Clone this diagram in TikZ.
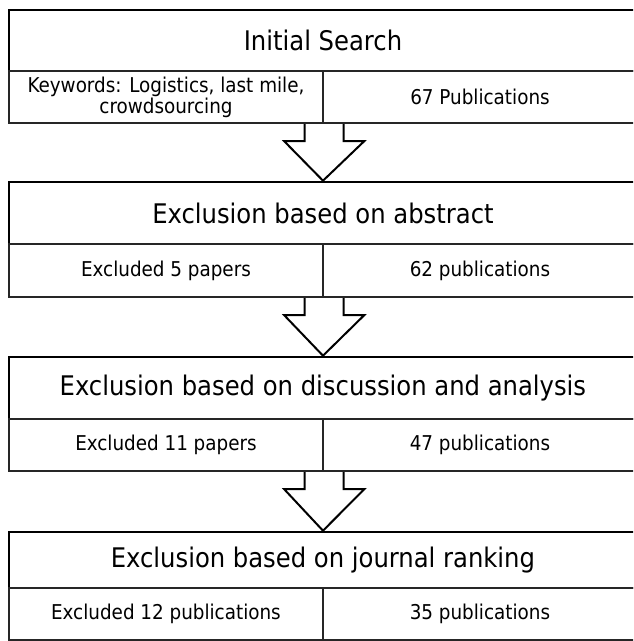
\documentclass[tikz,border=0pt]{standalone}
\usepackage{fontspec}
\setmainfont{DejaVu Sans Condensed}
\usetikzlibrary{calc}

\tikzset{
  titlecell/.style={draw=black, line width=2.6pt, minimum width=628pt, inner sep=0pt,
    font=\fontsize{27}{32}\selectfont},
  infocell/.style={draw=black!85, line width=2.4pt, minimum width=314pt, minimum height=52pt,
    inner sep=0pt, align=center, font=\fontsize{20.4}{23}\selectfont},
  blockarrow/.style={draw=black, fill=white, line width=2pt, line join=miter},
}

\begin{document}
\begin{tikzpicture}[x=1pt,y=-1pt]
  \clip (0,0) rectangle (633,641);
  \fill[white] (0,0) rectangle (633,641);

  % stage 1
  \node[titlecell, minimum height=61pt] (s1) at (323,40.5) {Initial Search};
  \node[infocell] (l1) at (166,97) {Keywords: Logistics, last mile,\\[-2pt] crowdsourcing};
  \node[infocell] (r1) at (480,97) {67 Publications};

  % stage 2
  \node[titlecell, minimum height=62pt] (s2) at (323,213) {Exclusion based on abstract};
  \node[infocell, minimum height=53pt] (l2) at (166,270.5) {Excluded 5 papers};
  \node[infocell, minimum height=53pt] (r2) at (480,270.5) {62 publications};

  % stage 3
  \node[titlecell, minimum height=62pt] (s3) at (323,388) {Exclusion based on discussion and analysis};
  \node[infocell] (l3) at (166,445) {Excluded 11 papers};
  \node[infocell] (r3) at (480,445) {47 publications};

  % stage 4
  \node[titlecell, minimum height=56pt] (s4) at (323,560) {Exclusion based on journal ranking};
  \node[infocell] (l4) at (166,614) {Excluded 12 publications};
  \node[infocell] (r4) at (480,614) {35 publications};

  % block arrows between stages
  \foreach \a/\b in {l1/s2, l2/s3, l3/s4}{
    \draw[blockarrow]
      ($(\a.south east)+(-19.5,0)$) -- ++(0,17) -- ++(-20.5,0)
      -- (\b.north)
      -- ($(\a.south east)+(40,17)$) -- ++(-20.5,0) -- ++(0,-17);
  }
\end{tikzpicture}
\end{document}
